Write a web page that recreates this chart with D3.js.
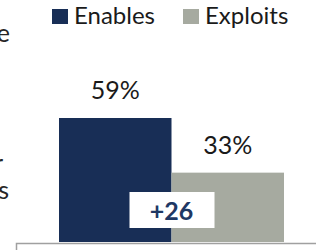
<!DOCTYPE html>
<html>
<head>
<meta charset="utf-8">
<script src="https://cdn.jsdelivr.net/npm/d3@7"></script>
<style>
  body { margin: 0; background: #fff; }
  svg { display: block; font-family: Lato, Calibri, sans-serif; }
</style>
</head>
<body>
<div id="chart"></div>
<script>
var series = ['Enables', 'Exploits'];
var values = [59, 33];
var colours = ['#182e56', '#a6aaa0'];
// fragments of the cut-off label on the left edge
var left_lines = [{t: 'e', y: 42, x: 10}, {t: 'r', y: 172, x: 3}, {t: 's', y: 199, x: 9}];

var width = 316;
var height = 250;
var padding = {top: 118, bottom: 8, left: 59, right: 32};

var svg = d3.select('#chart')
    .append('svg')
    .attr('width', width)
    .attr('height', height);

var x_scale = d3.scaleBand()
    .range([padding.left, width - padding.right])
    .domain(series)
    .paddingInner(0);

var y_scale = d3.scaleLinear()
    .range([height - padding.bottom, padding.top])
    .domain([0, d3.max(values)]);

var data = series.map(function(s, i){ return {name: s, value: values[i], colour: colours[i]}; });

// plot frame below the bars
svg.append('path')
    .attr('d', 'M16.5,' + height + 'V' + (height - padding.bottom + 1.5) + 'H' + width)
    .attr('fill', 'none')
    .attr('stroke', '#a0a0a0')
    .attr('stroke-width', 1.5);

svg.selectAll('rect.bar')
    .data(data)
    .enter()
    .append('rect')
    .attr('class', 'bar')
    .attr('x', function(d){ return x_scale(d.name); })
    .attr('y', function(d){ return y_scale(d.value); })
    .attr('width', x_scale.bandwidth())
    .attr('height', function(d){ return y_scale(0) - y_scale(d.value); })
    .attr('fill', function(d){ return d.colour; });

svg.selectAll('text.value')
    .data(data)
    .enter()
    .append('text')
    .attr('class', 'value')
    .attr('x', function(d){ return x_scale(d.name) + x_scale.bandwidth() / 2; })
    .attr('y', function(d){ return y_scale(d.value) - 19; })
    .attr('text-anchor', 'middle')
    .attr('font-size', '25px')
    .attr('fill', '#1a1a1a')
    .text(function(d){ return d.value + '%'; });

// difference badge
var diff = values[0] - values[1];
var mid = x_scale(series[1]);
svg.append('rect')
    .attr('x', mid - 42)
    .attr('y', 192)
    .attr('width', 85)
    .attr('height', 36)
    .attr('fill', '#fff');
svg.append('text')
    .attr('x', mid)
    .attr('y', 220)
    .attr('text-anchor', 'middle')
    .attr('font-size', '25px')
    .attr('font-weight', 'bold')
    .attr('fill', '#1f3864')
    .text('+' + diff);

// legend
var legend_x = [52, 183];
var legend = svg.selectAll('g.legend')
    .data(data)
    .enter()
    .append('g')
    .attr('class', 'legend')
    .attr('transform', function(d, i){ return 'translate(' + legend_x[i] + ',0)'; });
legend.append('rect')
    .attr('x', 0)
    .attr('y', 9)
    .attr('width', 16)
    .attr('height', 15)
    .attr('fill', function(d){ return d.colour; });
legend.append('text')
    .attr('x', 22)
    .attr('y', 24)
    .attr('font-size', '24px')
    .attr('fill', '#1a1a1a')
    .text(function(d){ return d.name; });

svg.selectAll('text.left')
    .data(left_lines)
    .enter()
    .append('text')
    .attr('class', 'left')
    .attr('x', function(d){ return d.x; })
    .attr('y', function(d){ return d.y; })
    .attr('text-anchor', 'end')
    .attr('font-size', '25px')
    .attr('fill', '#262626')
    .text(function(d){ return d.t; });
</script>
</body>
</html>
